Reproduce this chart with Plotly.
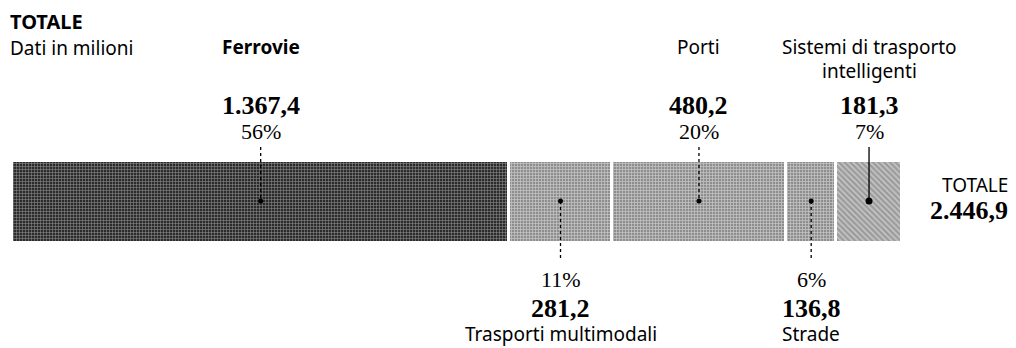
import plotly.graph_objects as go

categories = ["Ferrovie", "Trasporti multimodali", "Porti", "Strade", "Sistemi di trasporto intelligenti"]
values = [1367.4, 281.2, 480.2, 136.8, 181.3]
value_labels = ["1.367,4", "281,2", "480,2", "136,8", "181,3"]
pct_labels = ["56%", "11%", "20%", "6%", "7%"]
total_label = "2.446,9"
name_lines = [["<b>Ferrovie</b>"], ["Trasporti multimodali"], ["Porti"], ["Strade"],
              ["Sistemi di trasporto", "intelligenti"]]
label_side = ["top", "bottom", "top", "bottom", "top"]

total = sum(values)

bar_colors = ["#2b2b2b", "#8e8e8e", "#8e8e8e", "#8e8e8e", "#9a9a9a"]
patterns = [
    dict(shape="+", fgcolor="#e6e6e6", size=3, solidity=0.35),
    dict(shape="+", fgcolor="#f4f4f4", size=3, solidity=0.45),
    dict(shape="+", fgcolor="#f4f4f4", size=3, solidity=0.45),
    dict(shape="+", fgcolor="#f4f4f4", size=3, solidity=0.45),
    dict(shape="\\", fgcolor="#f0f0f0", size=4, solidity=0.45),
]

SANS = "Noto Sans, DejaVu Sans, sans-serif"
SERIF = "Liberation Serif, DejaVu Serif, serif"

BAR_Y = 201.5
BAR_H = 82

fig = go.Figure()
for cat, v, col, pat in zip(categories, values, bar_colors, patterns):
    fig.add_trace(go.Bar(
        x=[v], y=[BAR_Y], orientation="h", width=BAR_H, name=cat,
        marker=dict(color=col, pattern=pat, line=dict(color="white", width=3)),
        showlegend=False, hoverinfo="skip",
    ))

# segment midpoints from data
mids = []
cum = 0
for v in values:
    mids.append(cum + v / 2)
    cum += v

# leader lines and dots
for i, m in enumerate(mids):
    dash = "solid" if i == 4 else "dot"
    ys = [147, 201] if label_side[i] == "top" else [201, 258]
    fig.add_trace(go.Scatter(x=[m, m], y=ys, mode="lines",
                             line=dict(color="black", width=1.3, dash=dash),
                             showlegend=False, hoverinfo="skip"))
    fig.add_trace(go.Scatter(x=[m], y=[201], mode="markers",
                             marker=dict(color="black", size=7 if i == 4 else 5),
                             showlegend=False, hoverinfo="skip"))

ann = []
def add(x, y, text, font, size, xref="x", xanchor="center"):
    ann.append(dict(x=x, y=y, xref=xref, yref="y", text=text, showarrow=False,
                    xanchor=xanchor, yanchor="middle",
                    font=dict(family=font, size=size, color="black")))

for i, m in enumerate(mids):
    if label_side[i] == "top":
        for j, line in enumerate(name_lines[i]):
            add(m, 47 + 24 * j, line, SANS, 19)
        add(m, 105, "<b>" + value_labels[i] + "</b>", SERIF, 26)
        add(m, 131, pct_labels[i], SERIF, 22)
    else:
        add(m, 279, pct_labels[i], SERIF, 22)
        add(m, 308, "<b>" + value_labels[i] + "</b>", SERIF, 26)
        add(m, 334, name_lines[i][0], SANS, 19)

# title block (paper x so it sits at the left edge)
add(-0.005, 21, "<b>TOTALE</b>", SANS, 20, xref="paper", xanchor="left")
add(-0.005, 48, "Dati in milioni", SANS, 19, xref="paper", xanchor="left")

# total on the right
add(1.1213, 185, "TOTALE", SANS, 19, xref="paper", xanchor="right")
add(1.1213, 210, "<b>" + total_label + "</b>", SERIF, 26, xref="paper", xanchor="right")

fig.update_layout(
    width=1016, height=348,
    margin=dict(l=12, r=114, t=0, b=0),
    paper_bgcolor="white", plot_bgcolor="white",
    barmode="stack", bargap=0,
    xaxis=dict(range=[0, total], visible=False, fixedrange=True),
    yaxis=dict(range=[348, 0], visible=False, fixedrange=True),
    annotations=ann,
)

fig.write_html("out.html")
